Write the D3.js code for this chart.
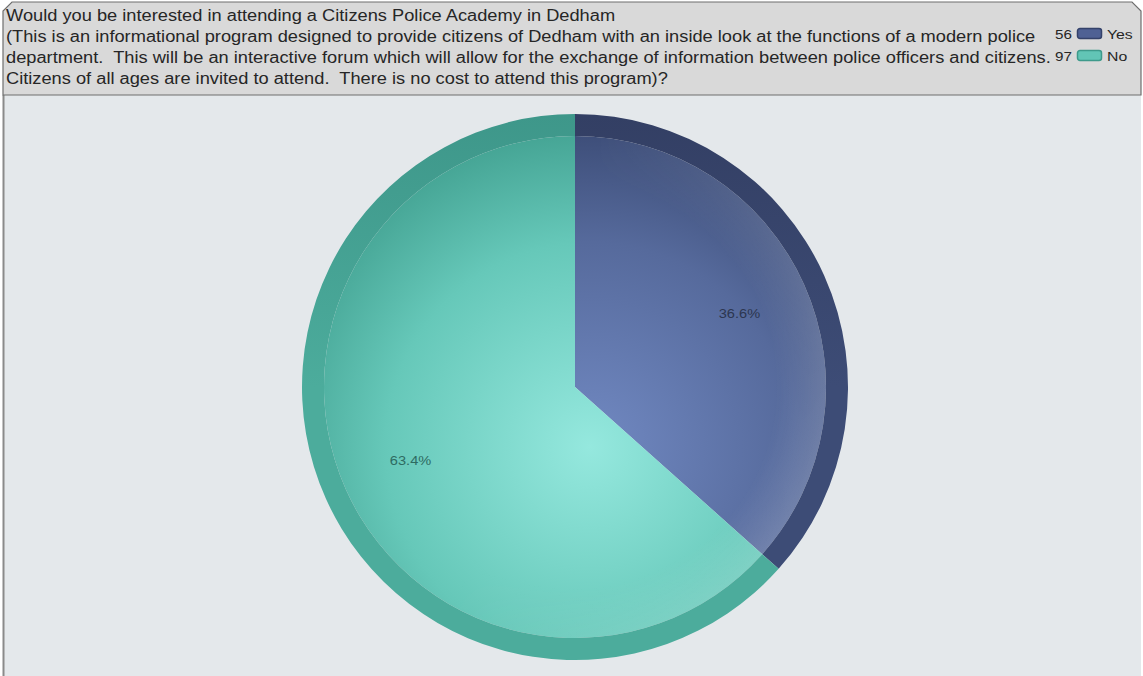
<!DOCTYPE html>
<html>
<head>
<meta charset="utf-8">
<script src="https://cdn.jsdelivr.net/npm/d3@7"></script>
<style>
  html, body { margin: 0; padding: 0; background: #ffffff; }
  svg { display: block; font-family: "Liberation Sans", Arial, sans-serif; }
  svg text { white-space: pre; }
</style>
</head>
<body>
<svg id="chart" width="1143" height="676"></svg>
<script>
// Survey responses
const categories = ["Yes", "No"];
const counts = [56, 97];
const titleLines = [
  "Would you be interested in attending a Citizens Police Academy in Dedham",
  "(This is an informational program designed to provide citizens of Dedham with an inside look at the functions of a modern police",
  "department.  This will be an interactive forum which will allow for the exchange of information between police officers and citizens.",
  "Citizens of all ages are invited to attend.  There is no cost to attend this program)?"
];

const palette = {
  Yes: { light: "#7189c2", base: "#566a9c", dark: "#3a4a74", ring: "#3d4c76", ringDark: "#333f64", legend: "#4f6194", legendEdge: "#34426a" },
  No:  { light: "#95e8de", base: "#66c8b9", dark: "#41a090", ring: "#4cac9c", ringDark: "#3e978a", legend: "#62c5b6", legendEdge: "#3e9a8b" }
};

const W = 1143, H = 676;
const textStretch = 1.17;
const svg = d3.select("#chart");
const defs = svg.append("defs");

// Plot background
svg.append("rect").attr("x", 3).attr("y", 95).attr("width", W - 5).attr("height", H - 95)
  .attr("fill", "#e4e8eb");
svg.append("line").attr("x1", 3.5).attr("x2", 3.5).attr("y1", 95).attr("y2", H)
  .attr("stroke", "#8a8a8a").attr("stroke-width", 2);

// Header panel with chamfered top corners
const hx0 = 3, hx1 = 1141, hy0 = 2, hy1 = 95, ch = 9;
svg.append("path")
  .attr("d", `M${hx0},${hy1} L${hx0},${hy0 + ch} L${hx0 + ch},${hy0} L${hx1 - ch},${hy0} L${hx1},${hy0 + ch} L${hx1},${hy1} Z`)
  .attr("fill", "#d9d9d9").attr("stroke", "#6e6e6e").attr("stroke-width", 1.2);

svg.append("g").attr("transform", `translate(6,0) scale(${textStretch},1)`)
  .selectAll("text").data(titleLines).join("text")
  .attr("x", 0).attr("y", (d, i) => 21 + i * 21)
  .attr("font-size", 15.6).attr("fill", "#262626")
  .text(d => d);

// Legend
const legend = svg.append("g").attr("transform", "translate(1077,28)");
const legRows = legend.selectAll("g").data(categories).join("g")
  .attr("transform", (d, i) => `translate(0,${i * 22})`);
legRows.append("rect").attr("x", 0.5).attr("y", 0.5).attr("width", 24).attr("height", 10)
  .attr("rx", 2.5)
  .attr("fill", d => palette[d].legend).attr("stroke", d => palette[d].legendEdge).attr("stroke-width", 1.5);
legRows.append("text").attr("transform", `translate(-5,11) scale(${textStretch},1)`)
  .attr("text-anchor", "end")
  .attr("font-size", 13).attr("fill", "#262626")
  .text((d, i) => counts[i]);
legRows.append("text").attr("transform", `translate(30,11) scale(${textStretch},1)`)
  .attr("font-size", 13.5).attr("fill", "#262626")
  .text(d => d);

// Pie
const cx = 575, cy = 387, R = 273, ringW = 22;
const total = d3.sum(counts);
const data = categories.map((c, i) => ({ cat: c, value: counts[i] }));
const pie = d3.pie().value(d => d.value).sort(null);
const arcs = pie(data);

// Gradients are expressed in the pie group's local coordinates (origin = centre)
categories.forEach(c => {
  const p = palette[c];
  const rg = defs.append("radialGradient").attr("id", "inner-" + c)
    .attr("gradientUnits", "userSpaceOnUse")
    .attr("cx", 15).attr("cy", 60).attr("r", 330)
    .attr("fx", 15).attr("fy", 60);
  rg.append("stop").attr("offset", 0).attr("stop-color", p.light);
  rg.append("stop").attr("offset", 0.62).attr("stop-color", p.base);
  rg.append("stop").attr("offset", 1).attr("stop-color", p.dark);

  const lg = defs.append("linearGradient").attr("id", "ring-" + c)
    .attr("gradientUnits", "userSpaceOnUse")
    .attr("x1", 0).attr("y1", -R).attr("x2", 0).attr("y2", R);
  lg.append("stop").attr("offset", 0).attr("stop-color", p.ringDark);
  lg.append("stop").attr("offset", 0.5).attr("stop-color", p.ring);
  lg.append("stop").attr("offset", 1).attr("stop-color", p.ring);
});

// Soft sheen along the inner edge of the ring, strongest on the right
const sheen = defs.append("radialGradient").attr("id", "sheen")
  .attr("gradientUnits", "userSpaceOnUse")
  .attr("cx", 0).attr("cy", 0).attr("r", R - ringW);
sheen.append("stop").attr("offset", 0.8).attr("stop-color", "#ffffff").attr("stop-opacity", 0);
sheen.append("stop").attr("offset", 1).attr("stop-color", "#ffffff").attr("stop-opacity", 0.18);
const sheenMaskGrad = defs.append("linearGradient").attr("id", "sheenMaskGrad")
  .attr("gradientUnits", "userSpaceOnUse")
  .attr("x1", -R).attr("y1", -R * 0.3).attr("x2", R).attr("y2", R * 0.3);
sheenMaskGrad.append("stop").attr("offset", 0.4).attr("stop-color", "#000");
sheenMaskGrad.append("stop").attr("offset", 0.95).attr("stop-color", "#fff");
defs.append("mask").attr("id", "sheenMask")
  .attr("maskUnits", "userSpaceOnUse")
  .attr("x", -R).attr("y", -R).attr("width", 2 * R).attr("height", 2 * R)
  .append("rect").attr("x", -R).attr("y", -R).attr("width", 2 * R).attr("height", 2 * R)
  .attr("fill", "url(#sheenMaskGrad)");

const g = svg.append("g").attr("transform", `translate(${cx},${cy})`);
const ringArc = d3.arc().innerRadius(R - ringW).outerRadius(R);
const innerArc = d3.arc().innerRadius(0).outerRadius(R - ringW);

g.selectAll("path.inner").data(arcs).join("path").attr("class", "inner")
  .attr("d", innerArc)
  .attr("fill", d => `url(#inner-${d.data.cat})`);
g.append("circle").attr("r", R - ringW)
  .attr("fill", "url(#sheen)").attr("mask", "url(#sheenMask)");
g.selectAll("path.ring").data(arcs).join("path").attr("class", "ring")
  .attr("d", ringArc)
  .attr("fill", d => `url(#ring-${d.data.cat})`);

// Percentage labels
const labelArc = d3.arc().innerRadius(R * 0.66).outerRadius(R * 0.66);
g.selectAll("text.pct").data(arcs).join("text").attr("class", "pct")
  .attr("transform", d => {
    const [x, y] = labelArc.centroid(d);
    return `translate(${x},${y}) scale(${textStretch},1)`;
  })
  .attr("text-anchor", "middle").attr("dy", "0.35em")
  .attr("font-size", 12.5)
  .attr("fill", d => d.data.cat === "Yes" ? "#2c3650" : "#2e6b62")
  .text(d => (d.data.value / total * 100).toFixed(1) + "%");
</script>
</body>
</html>
